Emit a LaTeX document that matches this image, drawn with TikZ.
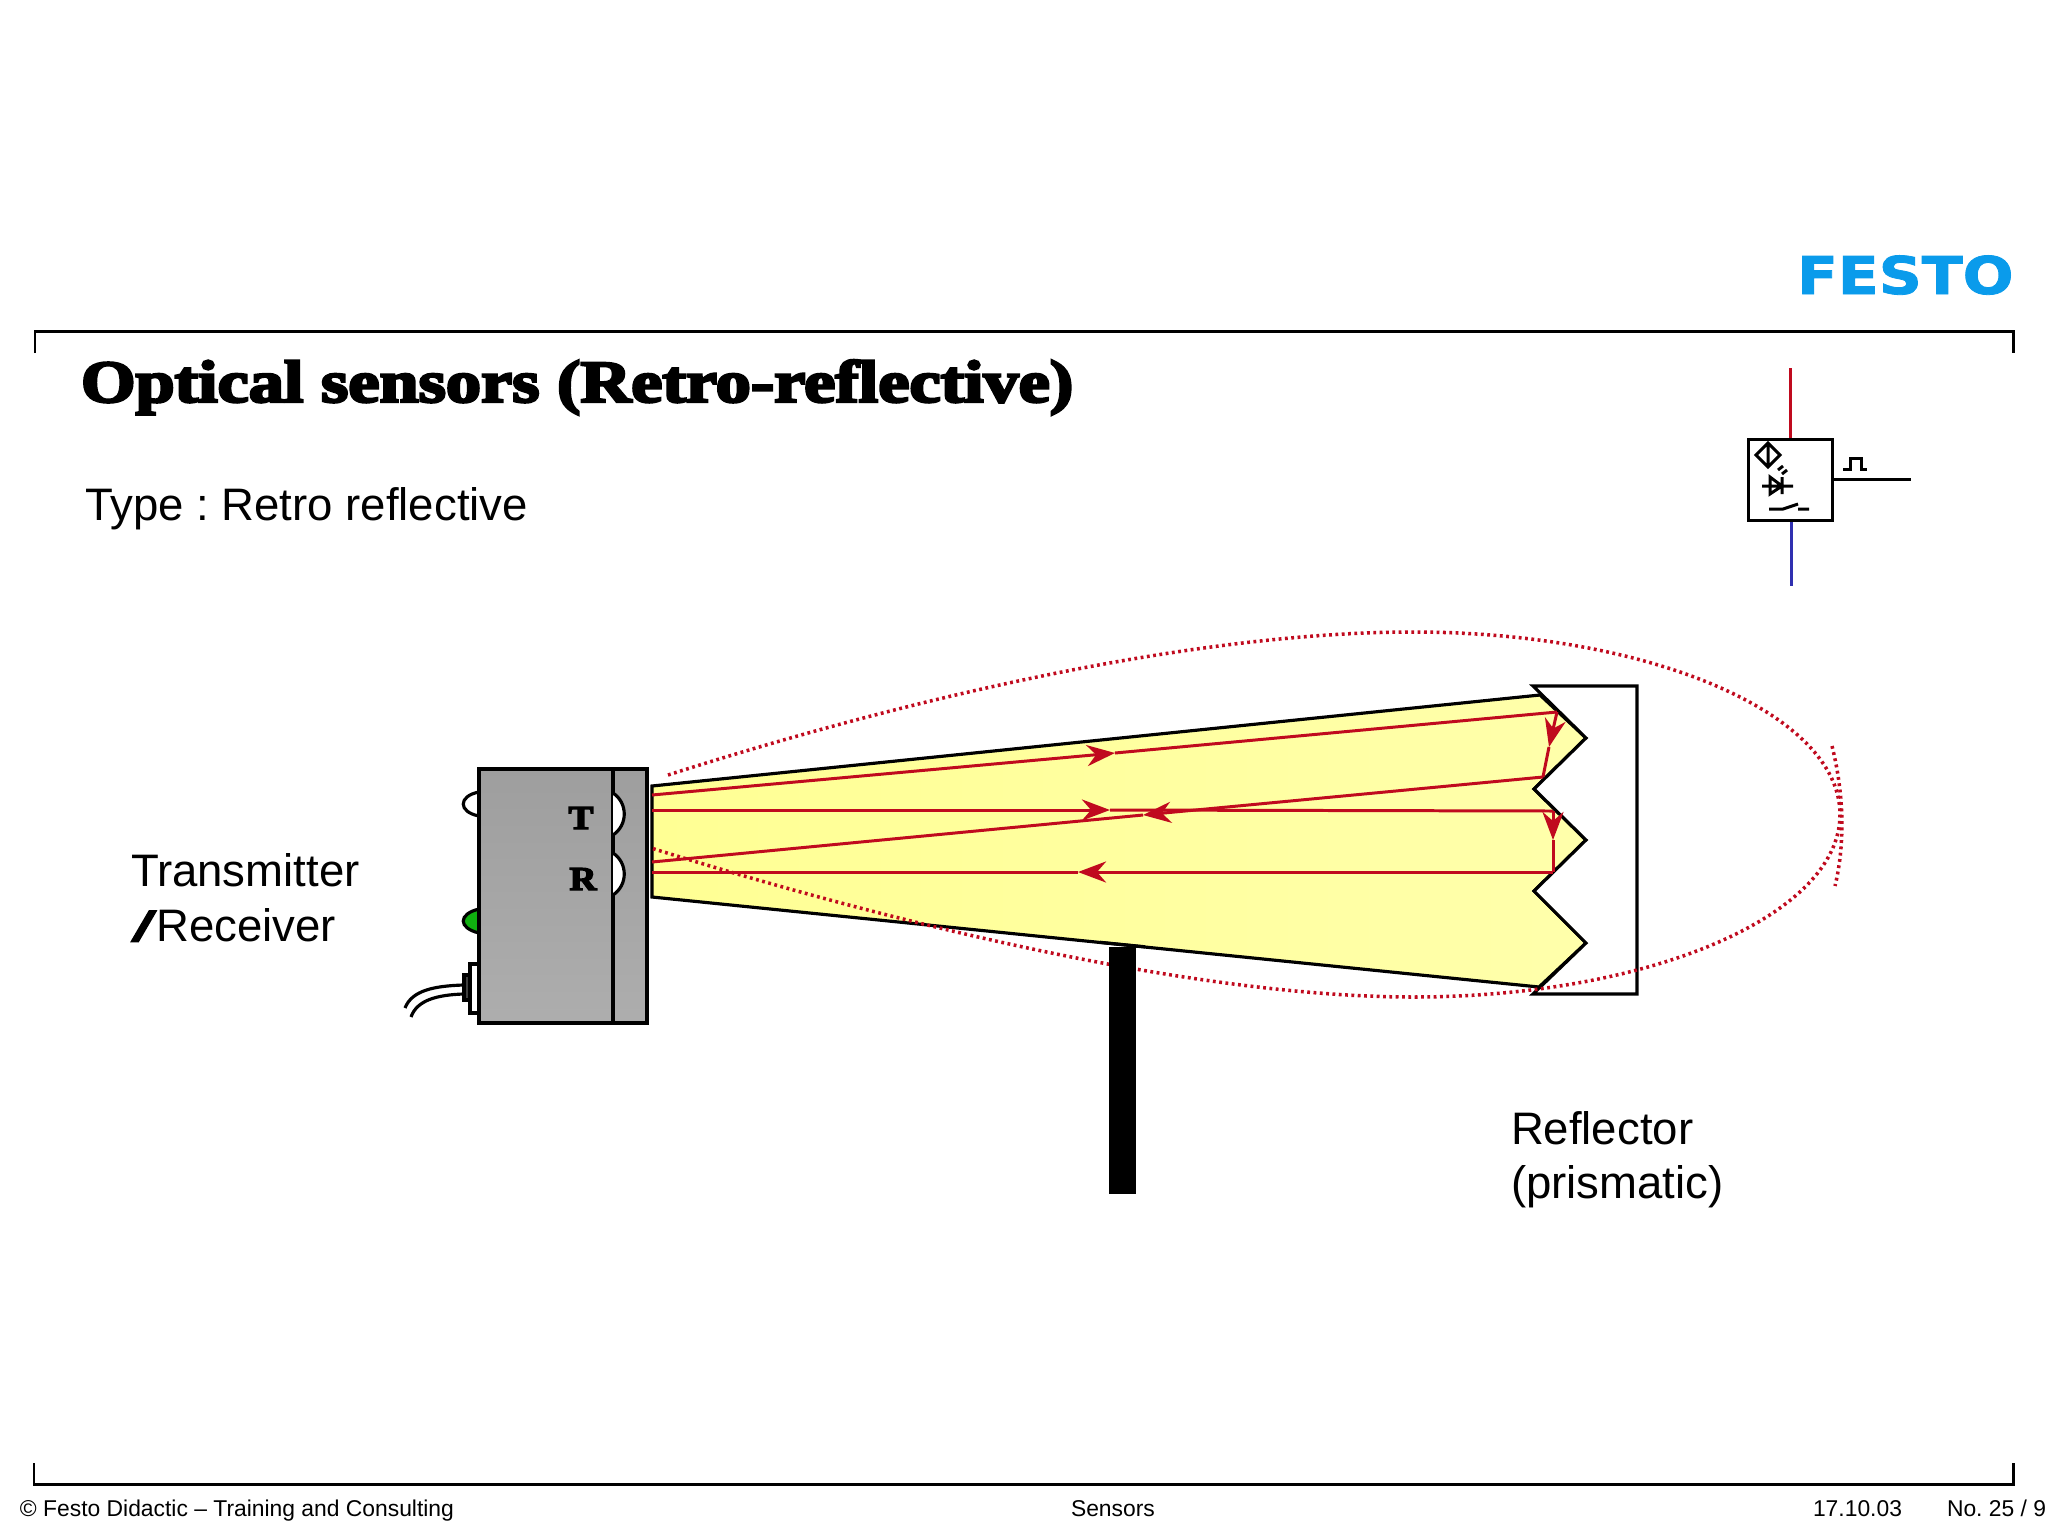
\documentclass[tikz,border=0pt]{standalone}
\usepackage{fontspec}
\usepackage{xcolor}
\usetikzlibrary{arrows.meta}
\setmainfont{Liberation Sans}
\newfontfamily\fatface[FakeBold=4]{Liberation Serif Bold}
\newfontfamily\logoface[FakeBold=1.5]{DejaVu Sans Bold}
\definecolor{rayred}{HTML}{C00A1E}
\definecolor{logoblue}{HTML}{0A9BEB}
\definecolor{wireblue}{HTML}{3030B0}
\definecolor{ledgreen}{HTML}{10B010}
\tikzstyle{every node}=[inner sep=0pt,outer sep=0pt,anchor=base west]
\tikzstyle{frameline}=[line width=0.85pt]
\tikzstyle{outline}=[line width=0.9pt,line join=miter]
\tikzstyle{symline}=[line width=0.85pt]
\tikzstyle{ray}=[line width=0.85pt,color=rayred,line join=round]
\tikzstyle{rayhead}=[ray,-{Stealth[inset=2.6pt,length=8pt,width=6pt,color=rayred]}]
\tikzstyle{dots}=[color=rayred,line width=1pt,dash pattern=on 0.8pt off 1pt]
\tikzstyle{bigtext}=[font=\fontsize{12.95pt}{15pt}\selectfont]
\tikzstyle{foottext}=[font=\fontsize{6.5pt}{8pt}\selectfont]

\begin{document}
\frenchspacing
\begin{tikzpicture}[x=0.01cm,y=-0.01cm]
\useasboundingbox[fill=white] (0,0) rectangle (2048,1536);

\draw[frameline] (35,353) -- (35,331) -- (2013,331) -- (2013,353);
\draw[frameline] (34,1463) -- (34,1484) -- (2013,1484) -- (2013,1463);

\node[text=logoblue,font=\logoface\fontsize{14.8pt}{16pt}\selectfont] (logo) at (1797,294) {\scalebox{1.15}[1]{FESTO}};
\node[font=\fatface\fontsize{17pt}{20pt}\selectfont] (title) at (81,402) {\scalebox{1.175}[1]{Optical sensors (Retro-reflective)}};
\node[bigtext] (type) at (85,520) {Type : Retro reflective};
\node[bigtext] (transmitter) at (131,886) {Transmitter};
\node[bigtext] (receiver) at (133,941) {{\fatface\scalebox{1.7}[1]{/}}\hspace{0.5pt}Receiver};
\node[bigtext] (reflector) at (1511,1144) {Reflector};
\node[bigtext] (prismatic) at (1511,1198) {(prismatic)};
\node[foottext] (copyright) at (20,1516) {© Festo Didactic – Training and Consulting};
\node[foottext] (topic) at (1071,1516) {Sensors};
\node[foottext] (date) at (1813,1516) {17.10.03};
\node[foottext] (page) at (1947,1516) {No. 25 / 9};

\begin{scope}
  \draw[symline,color=rayred] (1790,368) -- (1790,439);
  \draw[symline,color=wireblue] (1791,520) -- (1791,586);
  \draw[symline] (1748,439) rectangle (1832,520);
  \draw[symline] (1832,479) -- (1911,479);
  \draw[symline] (1843,469) -- (1850,469) -- (1850,458) -- (1861,458) -- (1861,469) -- (1867,469);
  \draw[symline] (1768,443) -- (1780,455) -- (1768,467) -- (1756,455) -- cycle (1768,443) -- (1768,467);
  \draw[symline] (1778,470) -- (1783,466) (1782,474) -- (1787,470);
  \draw[symline] (1762,486) -- (1793,486) (1770,477) -- (1770,494) -- (1782,486) -- cycle (1782,477) -- (1782,494);
  \draw[symline] (1769,509) -- (1783,509) -- (1798,504) (1798,509) -- (1809,509);
\end{scope}

\begin{scope}
  \draw[outline,fill=white] (479,792) .. controls (458,796) and (458,812) .. (479,816);
  \draw[outline,fill=ledgreen] (479,909) .. controls (458,914) and (458,928) .. (479,933);
  \draw[outline,fill=white] (470,964) rectangle (479,1013);
  \draw[outline,fill=black!75] (464,975) rectangle (470,1000);
  \draw[outline] (463,985) .. controls (435,986) and (412,990) .. (405,1008);
  \draw[outline] (463,994) .. controls (437,995) and (417,1000) .. (411,1017);
  \draw[outline,top color=black!38,bottom color=black!32] (479,769) rectangle (647,1023);
  \draw[outline] (613,769) -- (613,1023);
  \draw[outline,fill=white] (613,793) .. controls (628,803) and (628,825) .. (613,835);
  \draw[outline,fill=white] (613,853) .. controls (628,863) and (628,885) .. (613,895);
  \node[font=\fatface\fontsize{9.5pt}{10pt}\selectfont,anchor=base] (tlabel) at (581,829) {\scalebox{1.12}[1]{T}};
  \node[font=\fatface\fontsize{9.5pt}{10pt}\selectfont,anchor=base] (rlabel) at (583,890) {\scalebox{1.12}[1]{R}};
\end{scope}

\begin{scope}
  \draw[outline,left color=yellow!42,right color=yellow!33] (652,786) -- (1540,695) -- (1586,738) -- (1534,789) -- (1586,840) -- (1534,891) -- (1586,943) -- (1539,987) -- (652,897) -- cycle;
  \draw[outline,fill=white] (1533,686) -- (1586,738) -- (1534,789) -- (1586,840) -- (1534,891) -- (1586,943) -- (1533,994) -- (1637,994) -- (1637,686) -- cycle;
  \draw[rayhead] (652,795) -- (1115,753);
  \draw[ray] (1115,753) -- (1557,712);
  \draw[rayhead] (1557,712) -- (1549,747);
  \draw[ray] (1549,747) -- (1543,777);
  \draw[rayhead] (1543,777) -- (1143,815);
  \draw[ray] (1143,815) -- (652,862);
  \draw[rayhead] (652,810) -- (1110,810);
  \draw[ray] (1110,810) -- (1553,811);
  \draw[rayhead] (1553,811) -- (1553,840);
  \draw[ray] (1553,840) -- (1553,872);
  \draw[rayhead] (1553,872) -- (1078,872);
  \draw[ray] (1078,872) -- (652,872);
\end{scope}

\draw[dots] (668,775) .. controls (918,695) and (1200,632) .. (1413,632) .. controls (1649,632) and (1840,713.5) .. (1840,814.5) .. controls (1840,915.5) and (1649,997) .. (1413,997) .. controls (1200,997) and (905,927) .. (651,848);
\draw[dots] (1832,746) .. controls (1843,790) and (1846,840) .. (1835,886);
\fill[black] (1109,947) rectangle (1136,1194);
\draw[outline] (1100,942.3) -- (1145,946.8);

\end{tikzpicture}
\end{document}
